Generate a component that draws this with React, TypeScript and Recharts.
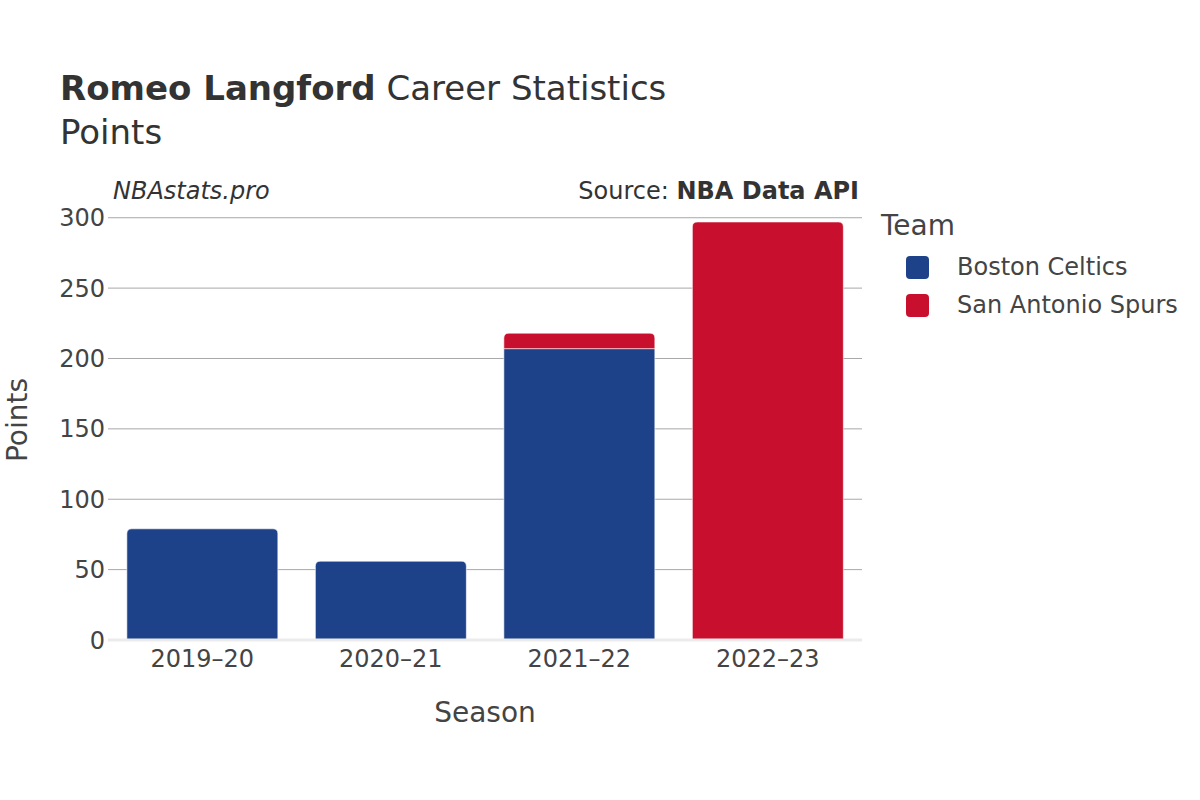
import React from "react";
import {
  BarChart,
  Bar,
  XAxis,
  YAxis,
  CartesianGrid,
  ReferenceLine,
} from "recharts";

const seasons = ["2019–20", "2020–21", "2021–22", "2022–23"];
const celticsPoints = [79, 56, 207, null];
const spursPoints = [null, null, 11, 297];
const yTicks = [0, 50, 100, 150, 200, 250, 300];

const TEAMS = [
  { key: "celtics", name: "Boston Celtics", color: "#1d4289" },
  { key: "spurs", name: "San Antonio Spurs", color: "#c8102e" },
];

const data = seasons.map((season, i) => ({
  season,
  celtics: celticsPoints[i],
  spurs: spursPoints[i],
}));

const FONT = "'DejaVu Sans', Verdana, sans-serif";
const TEXT = "#444";

// rounded top corners only on the top segment of each stack
function makeShape(teamKey: string) {
  return (props: any) => {
    const { x, y, width, height, fill, payload } = props;
    if (!height || height <= 0) return null;
    const isTop = teamKey === "spurs" || !payload.spurs;
    const r = isTop ? Math.min(5, height / 2) : 0;
    const d = `M${x},${y + height} L${x},${y + r} Q${x},${y} ${x + r},${y} L${x + width - r},${y} Q${x + width},${y} ${x + width},${y + r} L${x + width},${y + height} Z`;
    return <path d={d} fill={fill} stroke="#ffffff" strokeWidth={0.6} />;
  };
}

export default function App() {
  return (
    <div
      style={{
        position: "absolute",
        left: 0,
        top: 0,
        width: 1200,
        height: 800,
        background: "#fff",
        fontFamily: FONT,
        color: TEXT,
      }}
    >
      <div style={{ position: "absolute", left: 60, top: 68, fontSize: 34, color: "#333", whiteSpace: "nowrap" }}>
        <b>Romeo Langford</b> Career Statistics
      </div>
      <div style={{ position: "absolute", left: 60, top: 112, fontSize: 34, color: "#333" }}>Points</div>
      <div style={{ position: "absolute", left: 113, top: 177, fontSize: 24, fontStyle: "italic", color: "#333" }}>
        NBAstats.pro
      </div>
      <div style={{ position: "absolute", right: 1200 - 859, top: 177, fontSize: 24, color: "#333", whiteSpace: "nowrap" }}>
        Source: <b>NBA Data API</b>
      </div>

      <BarChart
        width={1200}
        height={800}
        data={data}
        margin={{ top: 200, right: 338, bottom: 130, left: 48 }}
        barCategoryGap="10%"
      >
        <CartesianGrid vertical={false} horizontalValues={yTicks} stroke="#a8a8a8" strokeWidth={1} />
        <XAxis
          dataKey="season"
          axisLine={false}
          tickLine={false}
          height={30}
          tick={{ fill: TEXT, fontSize: 24, fontFamily: FONT }}
          tickMargin={4}
        />
        <YAxis
          width={60}
          domain={[0, 312.6]}
          ticks={yTicks}
          axisLine={false}
          tickLine={false}
          tickSize={3}
          tick={{ fill: TEXT, fontSize: 24, fontFamily: FONT }}
          tickMargin={0}
        />
        {TEAMS.map((t) => (
          <Bar
            key={t.key}
            dataKey={t.key}
            name={t.name}
            stackId="a"
            fill={t.color}
            shape={makeShape(t.key)}
            isAnimationActive={false}
          />
        ))}
        <ReferenceLine y={0} stroke="#ebebeb" strokeWidth={3} />
      </BarChart>

      <div
        style={{
          position: "absolute",
          left: 0,
          top: 420,
          transform: "translate(17px, 0) translate(-50%, -50%) rotate(-90deg)",
          fontSize: 28,
          whiteSpace: "nowrap",
        }}
      >
        Points
      </div>
      <div
        style={{
          position: "absolute",
          left: 485,
          top: 712,
          transform: "translate(-50%, -50%)",
          fontSize: 28,
        }}
      >
        Season
      </div>

      <div style={{ position: "absolute", left: 881, top: 209, fontSize: 28 }}>Team</div>
      {TEAMS.map((t, i) => (
        <div
          key={t.key}
          style={{ position: "absolute", left: 906, top: 253 + i * 38, display: "flex", alignItems: "center" }}
        >
          <span
            style={{
              display: "inline-block",
              width: 23,
              height: 23,
              borderRadius: 4,
              background: t.color,
            }}
          />
          <span style={{ marginLeft: 28, fontSize: 24, whiteSpace: "nowrap" }}>{t.name}</span>
        </div>
      ))}
    </div>
  );
}
